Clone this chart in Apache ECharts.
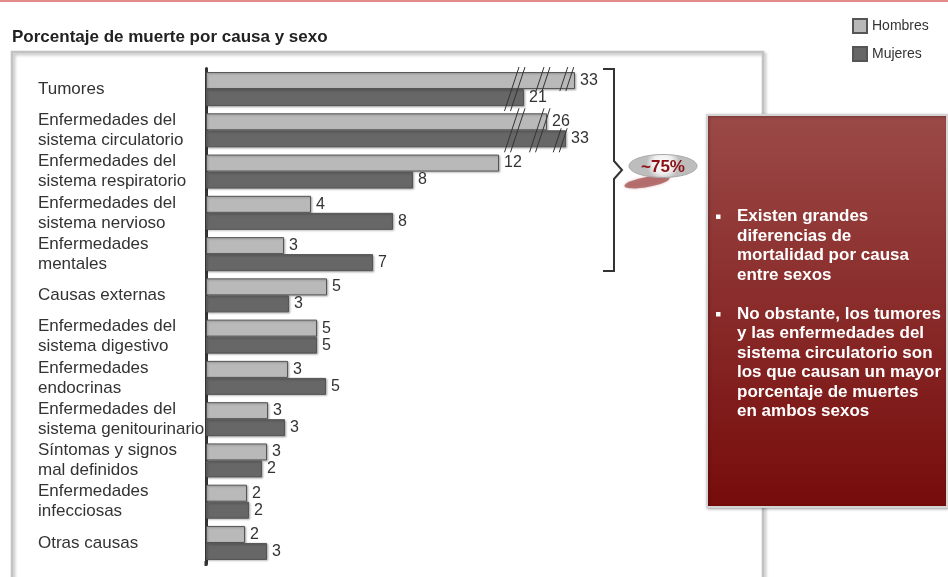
<!DOCTYPE html>
<html><head><meta charset="utf-8">
<script src="https://cdn.jsdelivr.net/npm/echarts@6/dist/echarts.min.js"></script>
<style>html,body{margin:0;padding:0;background:#fff}#c{width:948px;height:577px}</style>
</head><body><div id="c"></div>
<script>
const categorias = [
  'Tumores',
  'Enfermedades del\nsistema circulatorio',
  'Enfermedades del\nsistema respiratorio',
  'Enfermedades del\nsistema nervioso',
  'Enfermedades\nmentales',
  'Causas externas',
  'Enfermedades del\nsistema digestivo',
  'Enfermedades\nendocrinas',
  'Enfermedades del\nsistema genitourinario',
  'Síntomas y signos\nmal definidos',
  'Enfermedades\ninfecciosas',
  'Otras causas'
];
// Percentages shown as labels
const hombres = [33, 26, 12, 4, 3, 5, 5, 3, 3, 3, 2, 2];
const mujeres = [21, 33, 8, 8, 7, 3, 5, 5, 3, 2, 2, 3];
// Bar lengths as drawn in the picture (top two rows are broken bars)
const largoHombres = [14.76, 13.64, 11.72, 4.2, 3.12, 4.84, 4.44, 3.28, 2.48, 2.44, 1.64, 1.56];
const largoMujeres = [12.72, 14.4, 8.28, 7.48, 6.68, 3.32, 4.44, 4.8, 3.16, 2.24, 1.72, 2.44];
// Positions of the break marks (same scale as the bar lengths), rows with broken bars
const cortes = [12.35, 13.35, 14.3];
const filasCortadas = [0, 1];
const series = ['Hombres', 'Mujeres'];
const titulo = 'Porcentaje de muerte por causa y sexo';
const burbuja = '~75%';
const panelLineas = ['Existen grandes', 'diferencias de', 'mortalidad por causa', 'entre sexos', '',
  'No obstante, los tumores', 'y las enfermedades del', 'sistema circulatorio son',
  'los que causan un mayor', 'porcentaje de muertes', 'en ambos sexos'];

const chart = echarts.init(document.getElementById('c'), null, {renderer: 'canvas'});
const FONT = 'Arial, "Liberation Sans", Helvetica, sans-serif';
const barStyle = (fill) => ({color: fill, borderColor: '#555', borderWidth: 1,
  shadowColor: 'rgba(0,0,0,0.25)', shadowBlur: 2, shadowOffsetX: 1, shadowOffsetY: 1});

chart.setOption({
  animation: false,
  backgroundColor: '#fff',
  title: {text: titulo, left: 7, top: 24,
    textStyle: {fontFamily: FONT, fontSize: 17, fontWeight: 'bold', color: '#222'}},
  legend: {orient: 'vertical', left: 847, top: 13, itemWidth: 14, itemHeight: 14, itemGap: 12,
    icon: 'rect', data: series,
    textStyle: {fontFamily: FONT, fontSize: 14, color: '#333'}},
  grid: {left: 206, right: 242, top: 68.4, bottom: 13.4},
  xAxis: {type: 'value', min: 0, max: 20, show: false},
  yAxis: {type: 'category', inverse: true, data: categorias,
    axisTick: {show: false},
    axisLine: {lineStyle: {color: '#333', width: 3}},
    axisLabel: {align: 'left', margin: 168, fontFamily: FONT, fontSize: 17, lineHeight: 20, color: '#333'}},
  series: [
    {name: series[0], type: 'bar', data: largoHombres, barWidth: 17, barGap: '0%',
      itemStyle: barStyle('#b9b9b9'),
      label: {show: true, position: 'right', distance: 5, fontFamily: FONT, fontSize: 16, color: '#333',
        formatter: p => String(hombres[p.dataIndex])}},
    {name: series[1], type: 'bar', data: largoMujeres, barWidth: 17, barGap: '0%',
      itemStyle: barStyle('#676767'),
      label: {show: true, position: 'right', distance: 5, fontFamily: FONT, fontSize: 16, color: '#333',
        formatter: p => String(mujeres[p.dataIndex])}}
  ]
});

const els = [];
// top red line
els.push({type: 'rect', shape: {x: 0, y: 0, width: 948, height: 2}, style: {fill: '#e48a8a'}, z: 1});
// frame
els.push({type: 'rect', shape: {x: 12, y: 52, width: 751, height: 600},
  style: {fill: 'transparent', stroke: '#c2c2c2', lineWidth: 2.5,
    shadowBlur: 3, shadowColor: 'rgba(0,0,0,0.25)', shadowOffsetX: 2, shadowOffsetY: 2}, z: 0});
// extend the axis line slightly like the reference
const a0 = chart.convertToPixel({gridIndex: 0}, [0, 0]);
const a1 = chart.convertToPixel({gridIndex: 0}, [0, categorias.length - 1]);
els.push({type: 'line', shape: {x1: a0[0], y1: a1[1] + 18, x2: a0[0], y2: a1[1] + 23},
  style: {stroke: '#333', lineWidth: 3}, z: 5});

// break marks
filasCortadas.forEach(i => {
  cortes.forEach(c => {
    const p = chart.convertToPixel({gridIndex: 0}, [c, i]);
    const cx = p[0], cy = p[1];
    const h = largoHombres[i] > c, m = largoMujeres[i] > c;
    if (!h && !m) return;
    const yTop = h ? cy - 17 - 5 : cy - 2;
    const yBot = m ? cy + 17 + 5 : cy + 2;
    [-3, 3].forEach(off => {
      const xAt = y => cx + off - 0.33 * (y - cy);
      els.push({type: 'line', shape: {x1: xAt(yTop), y1: yTop, x2: xAt(yBot), y2: yBot},
        style: {stroke: '#333', lineWidth: 1}, z: 20});
    });
  });
});

// bracket
els.push({type: 'polyline', shape: {points: [[603, 69], [614, 69], [614, 161], [622, 170], [614, 179], [614, 271], [603, 271]]},
  style: {stroke: '#333', lineWidth: 2, fill: null}, z: 20});
// bubble shadow + bubble
els.push({type: 'ellipse', x: 647, y: 182, rotation: 0.18, shape: {cx: 0, cy: 0, rx: 23, ry: 5},
  style: {fill: 'rgba(150,50,50,0.6)', shadowBlur: 3, shadowColor: 'rgba(150,50,50,0.5)'}, z: 20});
els.push({type: 'ellipse', shape: {cx: 663, cy: 166, rx: 34, ry: 11.5},
  style: {fill: new echarts.graphic.RadialGradient(0.5, 0.4, 0.7, [
    {offset: 0, color: '#ffffff'}, {offset: 0.6, color: '#eeeeee'}, {offset: 1, color: '#bdbdbd'}]),
    stroke: '#a8a8a8', lineWidth: 1}, z: 21});
els.push({type: 'text', x: 663, y: 167, style: {text: burbuja, align: 'center', verticalAlign: 'middle',
  font: 'bold 17px ' + FONT, fill: '#8b1116'}, z: 22});

// red panel
els.push({type: 'rect', shape: {x: 707, y: 115, width: 240, height: 392},
  style: {fill: new echarts.graphic.LinearGradient(0, 0, 0, 1, [
    {offset: 0, color: '#9b4a48'}, {offset: 1, color: '#760c0b'}]),
    stroke: '#d4d4d4', lineWidth: 2, shadowBlur: 3, shadowColor: 'rgba(0,0,0,0.3)', shadowOffsetX: 1, shadowOffsetY: 1}, z: 30});
els.push({type: 'text', x: 737, y: 207, style: {text: panelLineas.join('\n'), font: 'bold 17px ' + FONT,
  lineHeight: 19.5, fill: '#ffffff', verticalAlign: 'top', align: 'left'}, z: 31});
[0, 5].forEach(k => {
  els.push({type: 'rect', shape: {x: 716, y: 207 + k * 19.5 + 7.5, width: 4.5, height: 4.5},
    style: {fill: '#ffffff'}, z: 31});
});

chart.setOption({graphic: {elements: els}});
</script>
</body></html>
